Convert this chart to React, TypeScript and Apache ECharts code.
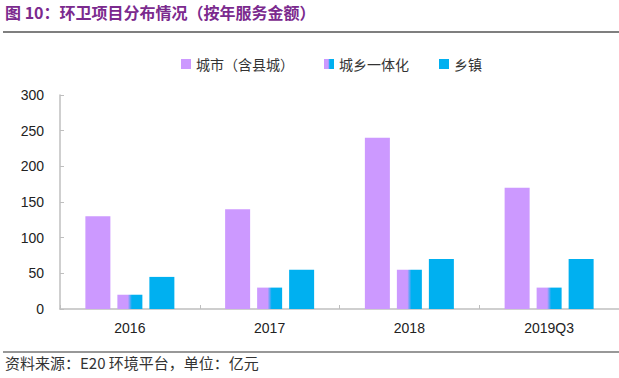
import React, { useEffect, useRef } from "react";
import * as echarts from "echarts";

const categories = ["2016", "2017", "2018", "2019Q3"];
const cityValues = [130, 140, 240, 170];
const integrationValues = [20, 30, 55, 30];
const townValues = [45, 55, 70, 70];
const yTicks = [0, 50, 100, 150, 200, 250, 300];

const PURPLE = "#CC99FF";
const BLUE = "#00B0F0";

export default function App() {
  const ref = useRef<HTMLDivElement>(null);
  useEffect(() => {
    if (!ref.current) return;
    const chart = echarts.init(ref.current, undefined, { renderer: "svg" });
    const grad = new echarts.graphic.LinearGradient(0, 0, 1, 0, [
      { offset: 0, color: PURPLE },
      { offset: 0.42, color: PURPLE },
      { offset: 0.58, color: BLUE },
      { offset: 1, color: BLUE },
    ]);
    const cjk = "'Noto Sans CJK SC', sans-serif";
    chart.setOption({
      animation: false,
      backgroundColor: "#ffffff",
      legend: {
        left: 176,
        top: 52,
        itemWidth: 10,
        itemHeight: 10,
        itemGap: 30,
        icon: "rect",
        textStyle: { fontSize: 14, color: "#333", fontFamily: cjk },
        data: ["城市（含县城）", "城乡一体化", "乡镇"],
      },
      grid: { left: 60, right: -13, top: 95, bottom: 69, containLabel: false },
      xAxis: {
        type: "category",
        data: categories,
        axisLine: { lineStyle: { color: "#BFBFBF", width: 1.5 } },
        axisTick: { show: true, inside: true, length: 4, lineStyle: { color: "#BFBFBF" } },
        axisLabel: { fontSize: 14, color: "#222", fontFamily: "Arial, 'Liberation Sans', sans-serif", margin: 12 },
      },
      yAxis: {
        type: "value",
        min: yTicks[0],
        max: yTicks[yTicks.length - 1],
        interval: 50,
        splitLine: { show: false },
        axisLine: { show: true, lineStyle: { color: "#BFBFBF", width: 1.5 } },
        axisTick: { show: true, inside: true, length: 4, lineStyle: { color: "#BFBFBF" } },
        axisLabel: { fontSize: 14, color: "#222", fontFamily: "Arial, 'Liberation Sans', sans-serif", margin: 16 },
      },
      series: [
        {
          name: "城市（含县城）",
          type: "bar",
          data: cityValues,
          barWidth: 25,
          barGap: "28%",
          itemStyle: { color: PURPLE },
        },
        {
          name: "城乡一体化",
          type: "bar",
          data: integrationValues,
          barWidth: 25,
          barGap: "28%",
          itemStyle: { color: grad },
        },
        {
          name: "乡镇",
          type: "bar",
          data: townValues,
          barWidth: 25,
          barGap: "28%",
          itemStyle: { color: BLUE },
        },
      ],
      graphic: [
        {
          type: "text",
          left: 5,
          top: 4,
          style: {
            text: "图 10：环卫项目分布情况（按年服务金额）",
            fill: "#7B2A8E",
            font: "bold 16px 'Noto Sans CJK SC', sans-serif",
          },
        },
        {
          type: "line",
          shape: { x1: 3, y1: 32, x2: 619, y2: 32 },
          style: { stroke: "#555", lineWidth: 1.5 },
        },
        {
          type: "line",
          shape: { x1: 3, y1: 352, x2: 619, y2: 352 },
          style: { stroke: "#333", lineWidth: 1.2 },
        },
        {
          type: "text",
          left: 5,
          top: 355,
          style: {
            text: "资料来源：E20 环境平台，单位：亿元",
            fill: "#333",
            font: "15px 'Noto Sans CJK SC', sans-serif",
          },
        },
      ],
    });
    return () => chart.dispose();
  }, []);
  return (
    <div
      ref={ref}
      style={{ position: "fixed", left: 0, top: 0, width: 619, height: 378 }}
    />
  );
}
